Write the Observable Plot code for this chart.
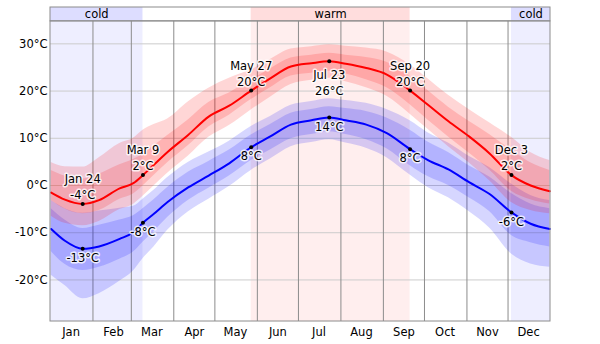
<!DOCTYPE html>
<html><head><meta charset="utf-8">
<script src="https://cdn.jsdelivr.net/npm/d3@7"></script>
<script src="https://cdn.jsdelivr.net/npm/@observablehq/plot@0.6"></script>
<style>
body{margin:0;background:#fff;}
#chart svg{display:block}
</style></head><body><div id="chart"></div>
<script>
// ---- data (day of year, 0 = Jan 1) ----
const dayOfYear = [0,10,23,35,50,60,67,75,85,100,115,130,146,160,175,190,203,215,230,245,262,275,290,305,320,336,350,364];
const highMean = [-1.5,-3.0,-3.9,-3.1,-0.6,0.5,2.2,4.4,7.1,10.7,14.6,16.9,20.1,22.7,25.2,25.9,26.3,25.8,24.9,23.5,20.1,17.1,13.6,10.4,6.8,2.2,0.0,-1.2];
const highP90 = [4.9,4.0,3.9,5.9,8.9,10.0,11.7,12.9,14.1,17.7,20.6,22.7,24.5,26.7,28.9,29.4,29.8,29.5,29.1,28.3,25.6,22.6,19.1,16.1,13.3,10.2,7.0,5.3];
const highP75 = [3.2,2.0,1.4,2.4,4.4,5.5,6.7,8.4,10.6,13.9,17.6,19.6,22.4,24.7,27.0,27.6,28.0,27.6,27.1,26.1,23.1,20.1,16.6,13.6,10.8,7.5,4.8,3.2];
const highP25 = [-3.2,-5.0,-6.0,-5.3,-2.9,-1.8,-0.1,2.1,4.8,8.4,12.4,14.9,18.2,20.7,23.2,23.8,24.2,23.6,22.4,20.7,17.1,13.9,10.3,6.9,3.3,-1.2,-3.0,-3.9];
const highP10 = [-6.5,-8.0,-8.5,-7.6,-5.1,-4.0,-2.3,-0.1,2.6,6.2,10.2,12.7,16.0,18.7,21.4,22.3,22.7,22.0,20.7,18.9,15.1,11.9,8.2,4.8,1.0,-3.6,-5.3,-6.0];
const lowMean = [-9.2,-11.7,-13.4,-12.9,-11.3,-9.9,-7.9,-6.0,-3.5,-0.4,2.1,4.7,8.1,10.4,12.9,13.8,14.4,13.8,12.9,11.1,7.7,5.4,3.4,0.7,-1.8,-5.7,-8.1,-9.2];
const lowP90 = [-3.2,-4.9,-5.9,-5.4,-4.8,-4.4,-2.9,-1.0,1.7,4.9,7.1,9.4,12.5,14.6,17.0,17.8,18.4,18.0,17.4,16.1,13.7,11.2,9.0,6.2,3.8,0.3,-2.1,-3.2];
const lowP75 = [-4.9,-7.3,-9.1,-8.4,-7.3,-6.4,-4.9,-3.0,-0.4,2.8,5.1,7.5,10.7,12.9,15.3,16.1,16.7,16.3,15.7,14.3,11.7,9.2,7.0,4.2,1.8,-1.7,-3.9,-4.9];
const lowP25 = [-14.0,-16.7,-18.0,-17.3,-15.6,-14.1,-12.0,-9.8,-6.8,-3.2,-0.6,2.0,5.3,7.5,9.9,10.8,11.4,10.8,9.7,7.8,4.2,1.9,0.0,-2.6,-5.5,-10.6,-12.1,-13.0];
const lowP10 = [-19.0,-21.2,-24.0,-22.9,-20.3,-18.1,-15.5,-13.0,-9.5,-5.6,-2.9,-0.2,3.2,5.6,8.2,9.1,9.7,9.0,7.9,5.9,2.2,-0.4,-2.6,-5.5,-9.0,-14.5,-16.6,-17.3];

// annotated days
const annLabel = ["Jan 24","Mar 9","May 27","Jul 23","Sep 20","Dec 3"];
const annDay = [23,67,146,203,262,336];
const annHighBelow = [false,false,false,true,false,false];

// seasons
const periodKind = ["cold","warm","cold"];
const periodStartDay = [0,146,336];
const periodEndDay = [67,262,365];

const yTicks = [-20,-10,0,10,20,30];
const monthNames = ["Jan","Feb","Mar","Apr","May","Jun","Jul","Aug","Sep","Oct","Nov","Dec"];

// ---- build ----
const dayDate = d => new Date(Date.UTC(2023,0,1+d,12));
const yearStart = new Date(Date.UTC(2023,0,1));
const yearEnd = new Date(Date.UTC(2024,0,1));
const rows = dayOfYear.map((d,i)=>({date:dayDate(d), hm:highMean[i], h90:highP90[i], h75:highP75[i], h25:highP25[i], h10:highP10[i],
  lm:lowMean[i], l90:lowP90[i], l75:lowP75[i], l25:lowP25[i], l10:lowP10[i]}));
const ann = annDay.map((d,i)=>{
  const k = dayOfYear.indexOf(d);
  return {date:dayDate(d), hi:highMean[k], lo:lowMean[k], label:annLabel[i], below:annHighBelow[i]};
});
const periods = periodKind.map((k,i)=>({kind:k,
  x1: periodStartDay[i]===0 ? yearStart : dayDate(periodStartDay[i]),
  x2: periodEndDay[i]===365 ? yearEnd : dayDate(periodEndDay[i])}));
const monthStarts = d3.range(1,12).map(m=>new Date(Date.UTC(2023,m,1)));
const monthMids = d3.range(0,12).map(m=>new Date(Date.UTC(2023,m,16)));

const Y0 = -28.8, YTOP = 34.76, YBAR = 37.7;
const fmt = v => `${Math.round(v)}°C`;
const FONT = "DejaVu Sans, Verdana, sans-serif";

const chart = Plot.plot({
  width: 600, height: 344,
  marginLeft: 50, marginRight: 50, marginTop: 7, marginBottom: 23,
  style: {fontFamily: FONT, fontSize: "11.5px", color: "#000", background: "#fff", overflow: "visible"},
  x: {type: "utc", domain: [yearStart, yearEnd], axis: null},
  y: {domain: [Y0, YBAR], axis: null},
  marks: [
    Plot.rect(periods, {x1:"x1", x2:"x2", y1:Y0, y2:YTOP, fill: d => d.kind==="cold" ? "#eeeeff" : "#ffeeee"}),
    Plot.rect(periods, {x1:"x1", x2:"x2", y1:YTOP, y2:YBAR, fill: d => d.kind==="cold" ? "#ddddff" : "#ffdddd"}),
    Plot.text(periods, {x: d => new Date((+d.x1 + +d.x2)/2), y:(YTOP+YBAR)/2, text:"kind", fill:"#000", fontSize:11.5}),
    Plot.ruleY(yTicks, {stroke:"#cccccc", strokeWidth:1}),
    Plot.ruleX(monthStarts, {y1:Y0, y2:YTOP, stroke:"#8c8c8c", strokeWidth:1}),
    Plot.areaY(rows, {x:"date", y1:"l10", y2:"l90", fill:"#0000ff", fillOpacity:0.16, curve:"monotone-x"}),
    Plot.areaY(rows, {x:"date", y1:"l25", y2:"l75", fill:"#0000ff", fillOpacity:0.16, curve:"monotone-x"}),
    Plot.areaY(rows, {x:"date", y1:"h10", y2:"h90", fill:"#ff0000", fillOpacity:0.16, curve:"monotone-x"}),
    Plot.areaY(rows, {x:"date", y1:"h25", y2:"h75", fill:"#ff0000", fillOpacity:0.16, curve:"monotone-x"}),
    Plot.lineY(rows, {x:"date", y:"lm", stroke:"#0000ff", strokeWidth:2, curve:"monotone-x"}),
    Plot.lineY(rows, {x:"date", y:"hm", stroke:"#ff0000", strokeWidth:2, curve:"monotone-x"}),
    Plot.dot(ann, {x:"date", y:"hi", r:2, fill:"#000"}),
    Plot.dot(ann, {x:"date", y:"lo", r:2, fill:"#000"}),
    Plot.text(ann.filter(d=>!d.below), {x:"date", y:"hi", text: d=>`${d.label}\n${fmt(d.hi)}`, lineAnchor:"bottom", dy:-5, lineHeight:1.4, fill:"#000", stroke:"white", strokeWidth:3, strokeOpacity:0.8, fontSize:11.5}),
    Plot.text(ann.filter(d=>d.below), {x:"date", y:"hi", text: d=>`${d.label}\n${fmt(d.hi)}`, lineAnchor:"top", dy:6, lineHeight:1.4, fill:"#000", stroke:"white", strokeWidth:3, strokeOpacity:0.8, fontSize:11.5}),
    Plot.text(ann, {x:"date", y:"lo", text: d=>fmt(d.lo), lineAnchor:"top", dy:5, fill:"#000", stroke:"white", strokeWidth:3, strokeOpacity:0.8, fontSize:11.5}),
    Plot.rect([0], {x1:yearStart, x2:yearEnd, y1:Y0, y2:YTOP, fill:"none", stroke:"#8c8c8c"}),
    Plot.rect([0], {x1:yearStart, x2:yearEnd, y1:YTOP, y2:YBAR, fill:"none", stroke:"#8c8c8c"}),
    Plot.axisY(yTicks, {tickSize:0, tickPadding:3, tickFormat: d=>`${d}°C`, fontSize:11.5}),
    Plot.axisX(monthMids, {tickSize:0, tickPadding:6, tickFormat: d=>monthNames[d.getUTCMonth()], fontSize:11.5})
  ]
});
document.getElementById("chart").appendChild(chart);
</script>
</body></html>
